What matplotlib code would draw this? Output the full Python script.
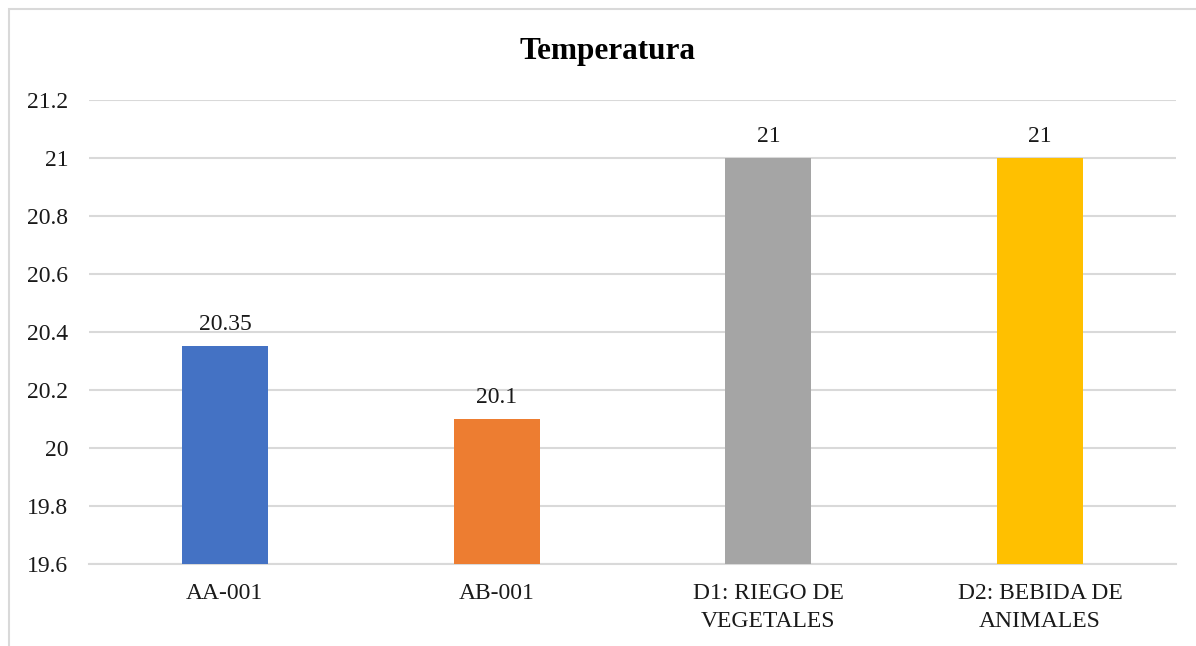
import matplotlib.pyplot as plt
from matplotlib.patches import Rectangle

# Temperature readings per sampling point
categorias = ['AA-001', 'AB-001', 'D1: RIEGO DE\nVEGETALES', 'D2: BEBIDA DE\nANIMALES']
temperaturas = [20.35, 20.1, 21, 21]
etiquetas = ['20.35', '20.1', '21', '21']
colores = ['#4472C4', '#ED7D31', '#A5A5A5', '#FFC000']

plt.rcParams['font.family'] = ['Liberation Serif', 'DejaVu Serif']

fig = plt.figure(figsize=(11.96, 6.46), dpi=100)
ax = fig.add_axes([89 / 1196, 1 - 564 / 646, (1176 - 89) / 1196, (564 - 100) / 646])

# chart frame, open to the right and bottom
fig.patches.append(Rectangle((9 / 1196, -0.1), 1.2, 1 - 9 / 646 + 0.1,
                             transform=fig.transFigure, fill=False,
                             edgecolor='#d9d9d9', linewidth=1.5))

x = range(len(categorias))
ax.bar(x, [t - 19.6 for t in temperaturas], bottom=19.6, width=0.316,
       color=colores, zorder=3)

for xi, t, lab in zip(x, temperaturas, etiquetas):
    ax.annotate(lab, (xi, t), xytext=(0, 8), textcoords='offset points',
                ha='center', va='bottom', fontsize=17, color='#1a1a1a')

ax.set_xlim(-0.5, len(categorias) - 0.5)
ax.set_ylim(19.6, 21.2)
ax.set_yticks([19.6, 19.8, 20, 20.2, 20.4, 20.6, 20.8, 21, 21.2])
ax.set_yticklabels(['19.6', '19.8', '20', '20.2', '20.4', '20.6', '20.8', '21', '21.2'])
ax.set_xticks(list(x))
ax.set_xticklabels(categorias, linespacing=1.45)

ax.tick_params(axis='both', length=0, labelsize=17, labelcolor='#1a1a1a')
ax.tick_params(axis='y', pad=15)
ax.tick_params(axis='x', pad=13.5)

ax.grid(axis='y', color='#d9d9d9', linewidth=1.5, zorder=0)
for s in ['top', 'right', 'left']:
    ax.spines[s].set_visible(False)
ax.spines['bottom'].set_color('#d9d9d9')
ax.spines['bottom'].set_linewidth(1.5)

fig.text(607 / 1196, 1 - 52 / 646, 'Temperatura', ha='center', va='center',
         fontsize=22.5, fontweight='bold', color='black')

fig.savefig('out.png', dpi=100)
